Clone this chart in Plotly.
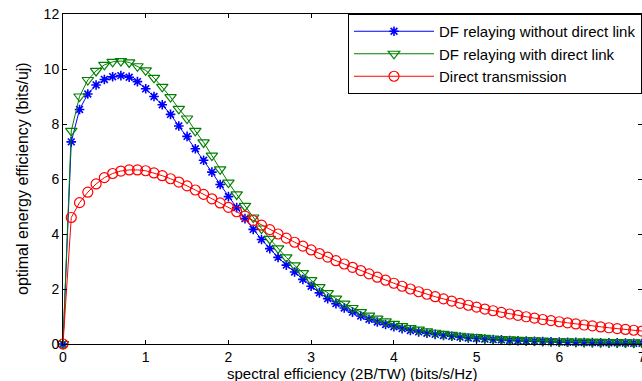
import plotly.graph_objects as go

x_vals = [round(0.1 * i, 1) for i in range(71)]

blue_df_no_direct = [
    0.0, 7.35, 8.53, 9.09, 9.42, 9.62, 9.72, 9.76, 9.70, 9.54,
    9.28, 9.00, 8.70, 8.35, 7.93, 7.55, 7.10, 6.68, 6.25, 5.80,
    5.36, 4.96, 4.56, 4.17, 3.80, 3.47, 3.15, 2.87, 2.62, 2.35,
    2.10, 1.86, 1.65, 1.47, 1.31, 1.16, 1.02, 0.90, 0.80, 0.71,
    0.63, 0.56, 0.49, 0.44, 0.39, 0.35, 0.31, 0.28, 0.25, 0.22,
    0.20, 0.18, 0.16, 0.15, 0.13, 0.12, 0.11, 0.10, 0.09, 0.08,
    0.07, 0.065, 0.06, 0.055, 0.05, 0.045, 0.04, 0.04, 0.035, 0.03,
    0.03,
]

green_df_direct = [
    0.0, 7.75, 9.00, 9.60, 9.93, 10.15, 10.26, 10.29, 10.24, 10.10,
    9.95, 9.68, 9.35, 8.98, 8.55, 8.20, 7.75, 7.33, 6.85, 6.35,
    5.87, 5.44, 5.02, 4.60, 4.20, 3.82, 3.48, 3.15, 2.86, 2.58,
    2.32, 2.07, 1.85, 1.65, 1.47, 1.31, 1.16, 1.03, 0.92, 0.82,
    0.73, 0.65, 0.58, 0.52, 0.46, 0.41, 0.37, 0.33, 0.30, 0.27,
    0.25, 0.22, 0.20, 0.18, 0.165, 0.15, 0.14, 0.13, 0.12, 0.11,
    0.10, 0.095, 0.09, 0.085, 0.08, 0.075, 0.07, 0.065, 0.06, 0.058,
    0.055,
]

red_direct = [
    0.0, 4.60, 5.14, 5.52, 5.82, 6.05, 6.20, 6.29, 6.33, 6.33,
    6.30, 6.22, 6.12, 6.01, 5.89, 5.75, 5.60, 5.44, 5.28, 5.13,
    4.97, 4.81, 4.65, 4.49, 4.32, 4.16, 4.00, 3.85, 3.70, 3.56,
    3.42, 3.29, 3.16, 3.03, 2.91, 2.79, 2.67, 2.55, 2.43, 2.32,
    2.21, 2.10, 2.00, 1.90, 1.81, 1.72, 1.64, 1.56, 1.48, 1.41,
    1.34, 1.27, 1.21, 1.15, 1.09, 1.04, 0.99, 0.94, 0.89, 0.85,
    0.81, 0.77, 0.73, 0.69, 0.66, 0.62, 0.59, 0.56, 0.53, 0.50,
    0.47,
]

names = ["DF relaying without direct link", "DF relaying with direct link", "Direct transmission"]
x_ticks = [0, 1, 2, 3, 4, 5, 6, 7]
y_ticks = [0, 2, 4, 6, 8, 10, 12]
x_title = "spectral efficiency (2B/TW) (bits/s/Hz)"
y_title = "optimal energy efficiency (bits/uj)"

FONT = "Liberation Sans, Arial, sans-serif"

fig = go.Figure()
fig.add_trace(go.Scatter(
    x=x_vals, y=blue_df_no_direct, name=names[0], mode="lines+markers",
    line=dict(color="#0000FF", width=1),
    marker=dict(symbol="asterisk-open", size=8, color="#0000FF", line=dict(color="#0000FF", width=1.6)),
    cliponaxis=False,
))
fig.add_trace(go.Scatter(
    x=x_vals, y=green_df_direct, name=names[1], mode="lines+markers",
    line=dict(color="#008000", width=1),
    marker=dict(symbol="triangle-down-open", size=10, color="#008000", line=dict(color="#008000", width=1.2)),
    cliponaxis=False,
))
fig.add_trace(go.Scatter(
    x=x_vals, y=red_direct, name=names[2], mode="lines+markers",
    line=dict(color="#FF0000", width=1),
    marker=dict(symbol="circle-open", size=10, color="#FF0000", line=dict(color="#FF0000", width=1.2)),
    cliponaxis=False,
))

axis_font = dict(family=FONT, size=14, color="#000000")

fig.update_layout(
    width=642, height=381,
    margin=dict(l=63, r=0, t=14, b=37, autoexpand=False),
    paper_bgcolor="white", plot_bgcolor="white",
    font=dict(family=FONT, size=13, color="#000000"),
    showlegend=True,
    legend=dict(
        x=1, xanchor="right", y=1, yanchor="top",
        bgcolor="white", bordercolor="black", borderwidth=1,
        font=dict(family=FONT, size=15, color="#000000"),
        itemwidth=80, tracegroupgap=0,
    ),
    xaxis=dict(
        range=[0, 7], tickvals=x_ticks, ticktext=[str(t) for t in x_ticks],
        ticks="inside", ticklen=4, tickcolor="black", showline=True, linecolor="black", linewidth=1,
        mirror="ticks", showgrid=False, zeroline=False, tickfont=axis_font, automargin=False,
        ticklabeloverflow="allow",
    ),
    yaxis=dict(
        range=[0, 12], tickvals=y_ticks, ticktext=[str(t) for t in y_ticks],
        ticks="inside", ticklen=4, tickcolor="black", showline=True, linecolor="black", linewidth=1,
        mirror="ticks", showgrid=False, zeroline=False, tickfont=axis_font, automargin=False,
        ticklabeloverflow="allow",
    ),
    annotations=[
        dict(text=x_title, xref="paper", yref="paper", x=0.5, y=0, yshift=-29,
             xanchor="center", yanchor="middle", showarrow=False,
             font=dict(family=FONT, size=15, color="#000000")),
        dict(text=y_title, xref="paper", yref="paper", x=0, xshift=-41, y=0.5,
             xanchor="center", yanchor="middle", showarrow=False, textangle=-90,
             font=dict(family=FONT, size=16, color="#000000")),
    ],
)

fig.write_html(
    "out.html",
    config={"displayModeBar": False},
    post_script="document.body.style.margin='0px';",
)
